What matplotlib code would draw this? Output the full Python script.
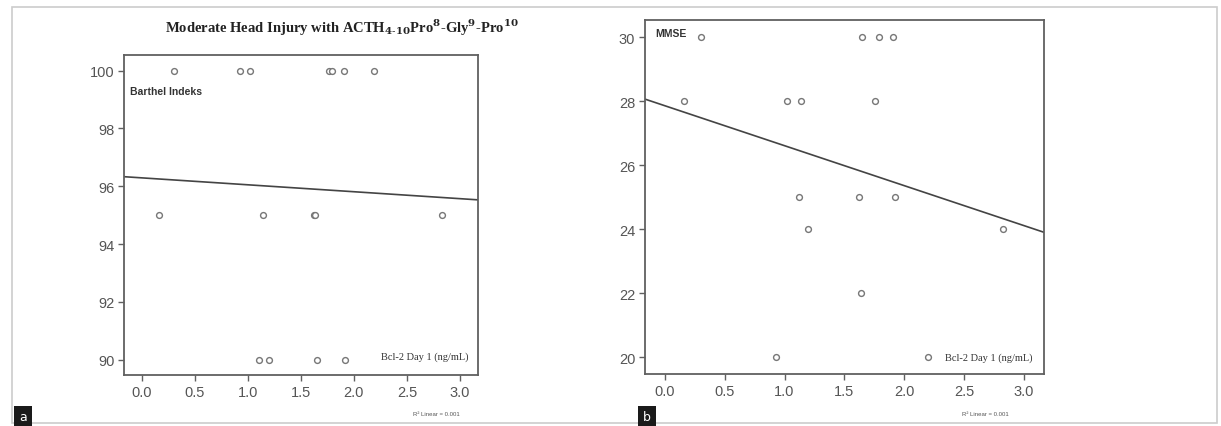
import matplotlib
matplotlib.use("Agg")
import matplotlib.pyplot as plt
from matplotlib.patches import Rectangle
import numpy as np

# ---- data ----
bcl2_day1 = [0.16, 0.30, 0.93, 1.02, 1.11, 1.14, 1.20, 1.62, 1.63, 1.65,
             1.77, 1.79, 1.91, 1.92, 2.19, 2.83]
barthel = [95, 100, 100, 100, 90, 95, 90, 95, 95, 90,
           100, 100, 100, 90, 100, 95]
bcl2_mmse = [0.16, 0.30, 0.93, 1.02, 1.12, 1.14, 1.20, 1.62, 1.64, 1.65,
             1.76, 1.79, 1.91, 1.92, 2.20, 2.83]
mmse = [28, 30, 20, 28, 25, 28, 24, 25, 22, 30,
        28, 30, 30, 25, 20, 24]
# linear fit lines (intercept, slope)
fit_barthel = (96.29, -0.24)
fit_mmse = (27.86, -1.247)

xticks = [0.0, 0.5, 1.0, 1.5, 2.0, 2.5, 3.0]
xticklabels = ["0.0", "0.5", "1.0", "1.5", "2.0", "2.5", "3.0"]
yticks_a = [90, 92, 94, 96, 98, 100]
yticks_b = [20, 22, 24, 26, 28, 30]

title_a = r"Moderate Head Injury with ACTH$_{\mathbf{4\text{-}10}}$Pro$^{\mathbf{8}}$-Gly$^{\mathbf{9}}$-Pro$^{\mathbf{10}}$"
label_a = "Barthel Indeks"
label_b = "MMSE"
xlabel_txt = "Bcl-2 Day 1 (ng/mL)"
r2_txt = "R² Linear = 0.001"

W, H = 1221, 427
fig = plt.figure(figsize=(W / 100, H / 100), dpi=100)
fig.patch.set_facecolor("white")

plt.rcParams["mathtext.fontset"] = "dejavuserif"

def px_rect(l, t, r, b):
    return [l / W, 1 - b / H, (r - l) / W, (b - t) / H]

ax_a = fig.add_axes(px_rect(124, 56, 478, 376))
ax_b = fig.add_axes(px_rect(645, 21, 1044, 375))

spine_col = "#606060"
tick_col = "#555555"
pt_col = "#777777"
line_col = "#444444"

def style(ax, yticks, ylim):
    ax.set_xlim(-0.167, 3.17)
    ax.set_ylim(*ylim)
    ax.set_xticks(xticks)
    ax.set_xticklabels(xticklabels)
    ax.set_yticks(yticks)
    ax.set_yticklabels([str(v) for v in yticks])
    for s in ax.spines.values():
        s.set_color(spine_col)
        s.set_linewidth(1.3)
    ax.tick_params(axis="both", direction="out", length=4, width=1,
                   color=spine_col, labelcolor=tick_col, labelsize=10.5,
                   pad=3)
    for lab in ax.get_xticklabels() + ax.get_yticklabels():
        lab.set_family("Liberation Sans")

style(ax_a, yticks_a, (89.47, 100.54))
style(ax_b, yticks_b, (19.48, 30.54))

ax_a.plot(bcl2_day1, barthel, "o", ms=4.2, mfc="white", mec=pt_col, mew=1.0, zorder=3)
ax_b.plot(bcl2_mmse, mmse, "o", ms=4.2, mfc="white", mec=pt_col, mew=1.0, zorder=3)

xx = np.array([-0.167, 3.17])
ax_a.plot(xx, fit_barthel[0] + fit_barthel[1] * xx, color=line_col, lw=1.2, zorder=2)
ax_b.plot(xx, fit_mmse[0] + fit_mmse[1] * xx, color=line_col, lw=1.2, zorder=2)

ax_a.text(-0.11, 99.3, label_a, fontsize=7.5, fontweight="bold",
          family="Liberation Sans", color="#333333", va="center", ha="left")
ax_b.text(-0.08, 30.12, label_b, fontsize=7.5, fontweight="bold",
          family="Liberation Sans", color="#333333", va="center", ha="left")
ax_a.text(2.255, 90.13, xlabel_txt, fontsize=7.5, family="Liberation Serif",
          color="#333333", va="center", ha="left")
ax_b.text(2.345, 20.0, xlabel_txt, fontsize=7.5, family="Liberation Serif",
          color="#333333", va="center", ha="left")

fig.text(436 / W, 1 - 415 / H, r2_txt, fontsize=4.3, family="Liberation Sans",
         color="#555555", ha="center", va="center")
fig.text(985 / W, 1 - 415 / H, r2_txt, fontsize=4.3, family="Liberation Sans",
         color="#555555", ha="center", va="center")

fig.text(342 / W, 1 - 28 / H, title_a, fontsize=10.5, fontweight="bold",
         family="Liberation Serif", color="#222222", ha="center", va="center")

# outer frame
fig.patches.append(Rectangle((12 / W, 1 - 424 / H), (1217 - 12) / W, (424 - 8) / H,
                             transform=fig.transFigure, fill=False,
                             edgecolor="#cccccc", lw=1.2))

for x, s in [(23, "a"), (647, "b")]:
    fig.text(x / W, 1 - 418 / H, s, fontsize=9, color="white",
             family="DejaVu Sans", ha="center", va="center",
             bbox=dict(boxstyle="square,pad=0.4", fc="#1a1a1a", ec="none"))

fig.savefig("out.png", dpi=100, facecolor="white")
